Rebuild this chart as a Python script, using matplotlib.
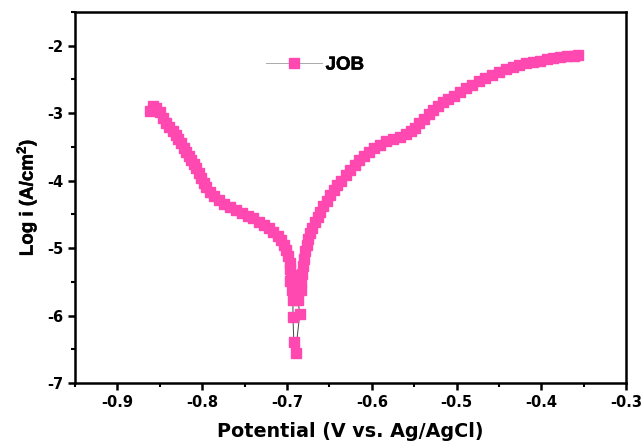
import matplotlib
matplotlib.use("Agg")
import matplotlib.pyplot as plt
import matplotlib.patheffects as pe
from matplotlib.ticker import MultipleLocator

plt.rcParams["font.family"] = ["Liberation Sans", "DejaVu Sans"]
plt.rcParams["font.weight"] = "bold"
plt.rcParams["mathtext.default"] = "regular"

# Cathodic branch (potential V, log i)
cath_e = [-0.862, -0.858, -0.854, -0.850, -0.846, -0.843, -0.839, -0.835, -0.831,
          -0.828, -0.825, -0.822, -0.819, -0.816, -0.813, -0.810, -0.807, -0.804,
          -0.801, -0.798, -0.795, -0.791, -0.786, -0.780, -0.774, -0.767, -0.760,
          -0.753, -0.746, -0.740, -0.733, -0.727, -0.721, -0.716, -0.711, -0.707,
          -0.704, -0.701, -0.699, -0.697, -0.696, -0.695, -0.696, -0.694, -0.693,
          -0.693, -0.692, -0.690]
cath_i = [-2.97, -2.90, -2.93, -2.99, -3.07, -3.15, -3.21, -3.27, -3.33,
          -3.39, -3.45, -3.52, -3.58, -3.64, -3.70, -3.76, -3.82, -3.89,
          -3.96, -4.03, -4.10, -4.17, -4.23, -4.29, -4.34, -4.39, -4.44,
          -4.48, -4.52, -4.56, -4.61, -4.66, -4.71, -4.76, -4.82, -4.88,
          -4.95, -5.03, -5.12, -5.22, -5.31, -5.40, -5.49, -5.62, -5.77,
          -6.02, -6.39, -6.55]

# Anodic branch
anod_e = [-0.685, -0.687, -0.684, -0.683, -0.682, -0.681, -0.680, -0.679, -0.677,
          -0.675, -0.673, -0.670, -0.667, -0.664, -0.661, -0.657, -0.653, -0.649,
          -0.645, -0.641, -0.636, -0.631, -0.626, -0.620, -0.615, -0.609, -0.603,
          -0.597, -0.590, -0.583, -0.575, -0.567, -0.560, -0.554, -0.549, -0.544,
          -0.539, -0.533, -0.528, -0.522, -0.516, -0.510, -0.503, -0.496, -0.489,
          -0.482, -0.474, -0.466, -0.458, -0.450, -0.442, -0.434, -0.426, -0.418,
          -0.410, -0.402, -0.394, -0.386, -0.378, -0.370, -0.362, -0.357]
anod_i = [-5.98, -5.77, -5.62, -5.50, -5.38, -5.27, -5.16, -5.05, -4.96,
          -4.87, -4.78, -4.70, -4.62, -4.54, -4.46, -4.38, -4.30, -4.22,
          -4.14, -4.07, -4.00, -3.92, -3.85, -3.77, -3.70, -3.63, -3.57,
          -3.52, -3.47, -3.42, -3.38, -3.35, -3.31, -3.27, -3.22, -3.15,
          -3.08, -3.02, -2.96, -2.90, -2.84, -2.79, -2.74, -2.68, -2.63,
          -2.58, -2.53, -2.48, -2.43, -2.39, -2.35, -2.31, -2.28, -2.26,
          -2.24, -2.22, -2.20, -2.19, -2.17, -2.16, -2.15, -2.14]

potential = cath_e + anod_e
log_i = cath_i + anod_i

fig = plt.figure(figsize=(6.41, 4.42), dpi=100)
ax = fig.add_axes([0.117, 0.1335, 0.860, 0.8395])

ax.plot(potential, log_i, color="#444444", linewidth=0.7,
        marker="s", markersize=7.5, markerfacecolor="#ff48b0",
        markeredgecolor="#ff48b0", label="JOB")

ax.set_xlim(-0.95, -0.3)
ax.set_ylim(-7, -1.5)
ax.xaxis.set_minor_locator(MultipleLocator(0.05))
ax.yaxis.set_minor_locator(MultipleLocator(0.5))
ax.set_xticks([-0.9, -0.8, -0.7, -0.6, -0.5, -0.4, -0.3])
ax.set_xticklabels(["-0.9", "-0.8", "-0.7", "-0.6", "-0.5", "-0.4", "-0.3"],
                   fontfamily="DejaVu Sans", fontweight="bold")
ax.set_yticks([-7, -6, -5, -4, -3, -2])
ax.set_yticklabels(["-7", "-6", "-5", "-4", "-3", "-2"],
                   fontfamily="DejaVu Sans", fontweight="bold")

for s in ax.spines.values():
    s.set_linewidth(1.8)
ax.tick_params(which="major", direction="out", length=5, width=1.8, labelsize=10.5)
ax.tick_params(which="minor", direction="out", length=3, width=1.5)

ax.set_xlabel("Potential (V vs. Ag/AgCl)", fontsize=13.8, fontweight="bold",
              fontfamily="DejaVu Sans", labelpad=9)
ylab = ax.set_ylabel("Log i (A/cm$^2$)", fontsize=13.5, fontweight="bold", labelpad=6)
ylab.set_path_effects([pe.withStroke(linewidth=0.35, foreground="black")])

leg = ax.legend(loc="center left", bbox_to_anchor=(0.315, 0.857), frameon=False,
                fontsize=13.5, handlelength=3.0, handletextpad=0.2)
leg.get_lines()[0].set_color("#aaaaaa")
for t in leg.get_texts():
    t.set_path_effects([pe.withStroke(linewidth=0.35, foreground="black")])

fig.savefig("out.png", dpi=100)
